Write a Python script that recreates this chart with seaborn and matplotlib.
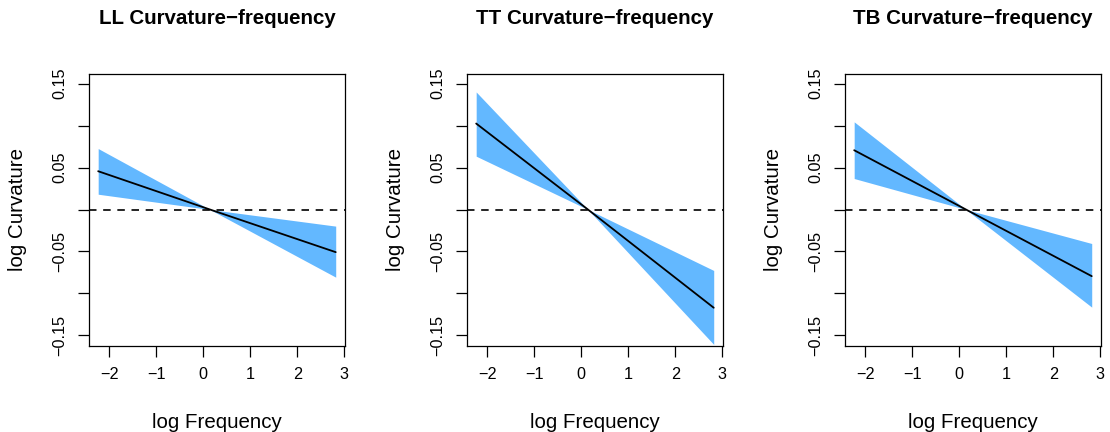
import numpy as np
import pandas as pd
import matplotlib
matplotlib.use("Agg")
import matplotlib.pyplot as plt
import seaborn as sns

# ---- data ----
panels = ["LL", "TT", "TB"]
x_pts = [-2.24, 0.14, 2.82]
fit_LL = [0.0456, 0.0, -0.0508]
upper_LL = [0.0726, 0.0, -0.0198]
lower_LL = [0.0182, 0.0, -0.0806]
fit_TT = [0.1024, 0.0, -0.1170]
upper_TT = [0.1400, 0.0, -0.0726]
lower_TT = [0.0635, 0.0, -0.1607]
fit_TB = [0.0706, 0.0, -0.0794]
upper_TB = [0.1044, 0.0, -0.0405]
lower_TB = [0.0369, 0.0, -0.1163]
x_ticks = [-2, -1, 0, 1, 2, 3]
y_ticks = [-0.15, -0.10, -0.05, 0.0, 0.05, 0.10, 0.15]
y_labels = ["\u22120.15", "", "\u22120.05", "", "0.05", "", "0.15"]
x_labels = ["\u22122", "\u22121", "0", "1", "2", "3"]

series = {
    "LL": (fit_LL, lower_LL, upper_LL),
    "TT": (fit_TT, lower_TT, upper_TT),
    "TB": (fit_TB, lower_TB, upper_TB),
}
rows = []
for p in panels:
    f, lo, up = series[p]
    for xi, fi, li, ui in zip(x_pts, f, lo, up):
        rows.append(dict(panel=p, x=xi, fit=fi, lower=li, upper=ui))
df = pd.DataFrame(rows)

sns.set_style("ticks")
plt.rcParams["font.family"] = ["Liberation Sans", "DejaVu Sans"]
plt.rcParams["axes.unicode_minus"] = True
plt.rcParams["text.color"] = "black"
plt.rcParams["axes.labelcolor"] = "black"

fig = plt.figure(figsize=(11.1, 4.32), dpi=100)
W, H = 1110.0, 432.0
lefts = [88.7, 466.7, 844.7]
box_w = 256.5
box_top, box_bot = 73.5, 345.5

band_color = "#63B8FF"
for p, lx in zip(panels, lefts):
    ax = fig.add_axes([lx / W, 1 - box_bot / H, box_w / W, (box_bot - box_top) / H])
    d = df[df.panel == p]
    ax.fill_between(d["x"], d["lower"], d["upper"], color=band_color, linewidth=0, zorder=1)
    sns.lineplot(data=d, x="x", y="fit", ax=ax, color="black", linewidth=1.3, zorder=3)
    ax.axhline(0, color="black", linewidth=1.2, dashes=(4.5, 4), zorder=2)

    ax.set_xlim(-2.442, 3.022)
    ax.set_ylim(-0.162, 0.162)
    ax.set_xticks(x_ticks)
    ax.set_xticklabels(x_labels)
    ax.set_yticks(y_ticks)
    ax.set_yticklabels(y_labels)
    ax.tick_params(axis="both", direction="out", length=7.9, width=0.9, color="black",
                   labelsize=11.7, labelcolor="black")
    ax.tick_params(axis="x", pad=7.5)
    ax.tick_params(axis="y", pad=7.5)
    for lab in ax.get_yticklabels():
        lab.set_rotation(90)
        lab.set_va("center")
        lab.set_ha("right")
    for s in ax.spines.values():
        s.set_visible(True)
        s.set_linewidth(0.9)
        s.set_color("black")
    ax.grid(False)

    ax.set_xlabel("log Frequency", fontsize=14.8)
    ax.xaxis.set_label_coords(0.5, (box_bot - 422.0) / (box_bot - box_top))
    ax.xaxis.label.set_va("center")
    ax.set_ylabel("log Curvature", fontsize=14.8)
    ax.yaxis.set_label_coords((17.5 - 88.7) / box_w, 0.5)
    ax.yaxis.label.set_va("center")
    ax.set_title(f"{p} Curvature\u2212frequency", fontsize=14.75, fontweight="bold",
                 pad=0, y=(box_bot - 19.0) / (box_bot - box_top), va="center")

fig.savefig("out.png", dpi=100, facecolor="white")
